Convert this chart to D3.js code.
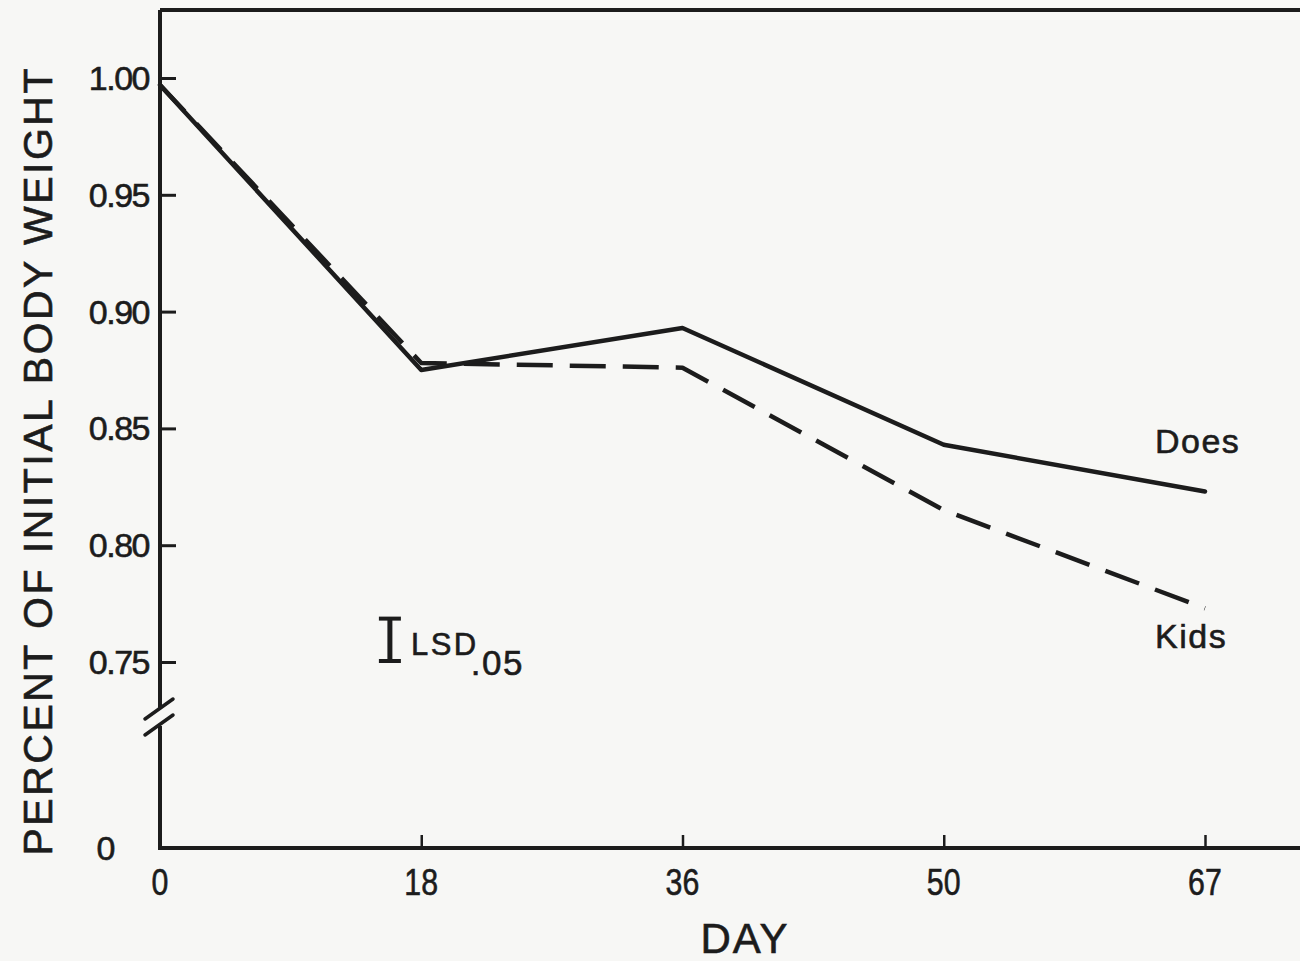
<!DOCTYPE html>
<html>
<head>
<meta charset="utf-8">
<script src="https://cdn.jsdelivr.net/npm/d3@7"></script>
<style>
  html, body { margin: 0; padding: 0; background: #f7f7f5; }
  svg { display: block; }
  text { font-family: "Liberation Sans", Arial, sans-serif; fill: #1c1c1c; stroke: #1c1c1c; stroke-width: 0.6; }
</style>
</head>
<body>
<svg id="chart" width="1300" height="961"></svg>
<script>
// ---- data ----
const days = ["0", "18", "36", "50", "67"];
const does = [0.997, 0.875, 0.893, 0.843, 0.823];
const kids = [0.997, 0.878, 0.876, 0.815, 0.773];
const yTicks = [0.75, 0.80, 0.85, 0.90, 0.95, 1.00];
const yTickLabels = ["0.75", "0.80", "0.85", "0.90", "0.95", "1.00"];
const lsdValue = 0.019;
const seriesNames = ["Does", "Kids"];

(function () {
// ---- layout ----
const svg = d3.select("#chart");
const pLeft = 160, pTop = 10, pRight = 1300, pBottom = 848;
const ink = "#1c1c1c";

const x = d3.scalePoint().domain(days).range([160, 1205]);
const y = d3.scaleLinear().domain([0.75, 1.00]).range([662, 78]);

// frame: top line
svg.append("line").attr("x1", pLeft).attr("x2", pRight).attr("y1", pTop).attr("y2", pTop)
  .attr("stroke", ink).attr("stroke-width", 4);

// y-axis with break
const breakY = y(0.75) + 55;
svg.append("line").attr("x1", pLeft).attr("x2", pLeft).attr("y1", pTop).attr("y2", breakY - 9)
  .attr("stroke", ink).attr("stroke-width", 4);
svg.append("line").attr("x1", pLeft).attr("x2", pLeft).attr("y1", breakY + 9).attr("y2", pBottom + 2)
  .attr("stroke", ink).attr("stroke-width", 4);
// break slashes
[-8, 8].forEach(o => {
  svg.append("line")
    .attr("x1", pLeft - 15).attr("y1", breakY + o + 10)
    .attr("x2", pLeft + 13).attr("y2", breakY + o - 10)
    .attr("stroke", ink).attr("stroke-width", 3.5).attr("stroke-linecap", "round");
});

// y axis ticks (inward) and labels
const yAxis = d3.axisRight(y).tickValues(yTicks).tickSize(16).tickFormat("");
const yg = svg.append("g").attr("transform", `translate(${pLeft},0)`).call(yAxis);
yg.select(".domain").remove();
yg.selectAll(".tick line").attr("stroke", ink).attr("stroke-width", 3);
svg.append("g").selectAll("text").data(yTicks).join("text")
  .attr("x", pLeft - 11).attr("y", d => y(d) + 12)
  .attr("text-anchor", "end").attr("font-size", 34).attr("letter-spacing", -1.5)
  .text((d, i) => yTickLabels[i]);
// the "0" of the broken axis
svg.append("text").attr("x", 106).attr("y", pBottom + 12)
  .attr("text-anchor", "middle").attr("font-size", 34).text("0");

// x axis
const xAxis = d3.axisTop(x).tickSize(13).tickFormat("");
const xg = svg.append("g").attr("transform", `translate(0,${pBottom})`).call(xAxis);
xg.select(".domain").remove();
xg.selectAll(".tick line").attr("stroke", ink).attr("stroke-width", 2.5);
svg.append("line").attr("x1", pLeft).attr("x2", pRight).attr("y1", pBottom).attr("y2", pBottom)
  .attr("stroke", ink).attr("stroke-width", 4);
svg.append("g").selectAll("text").data(days).join("text")
  .attr("x", d => x(d)).attr("y", pBottom + 47)
  .attr("text-anchor", "middle").attr("font-size", 37)
  .attr("transform", d => `translate(${x(d)},0) scale(0.82,1) translate(${-x(d)},0)`)
  .text(d => d);

// axis titles
svg.append("text").attr("x", 745).attr("y", 953)
  .attr("text-anchor", "middle").attr("font-size", 42).attr("letter-spacing", 2).text("DAY");
svg.append("text")
  .attr("transform", "translate(52,462) rotate(-90)")
  .attr("text-anchor", "middle").attr("font-size", 41)
  .attr("textLength", 787).attr("lengthAdjust", "spacing")
  .text("PERCENT OF INITIAL BODY WEIGHT");

// lines
const line = d3.line().x((d, i) => x(days[i])).y(d => y(d));
svg.append("path").datum(kids).attr("d", line)
  .attr("fill", "none").attr("stroke", ink).attr("stroke-width", 4.5)
  .attr("stroke-dasharray", "36,17").attr("stroke-linejoin", "round");
svg.append("path").datum(does).attr("d", line)
  .attr("fill", "none").attr("stroke", ink).attr("stroke-width", 4.5)
  .attr("stroke-linejoin", "round").attr("stroke-linecap", "round");

// series labels
svg.append("text").attr("x", 1155).attr("y", y(does[4]) - 38)
  .attr("font-size", 34).attr("letter-spacing", 1.5).text(seriesNames[0]);
svg.append("text").attr("x", 1155).attr("y", y(kids[4]) + 40)
  .attr("font-size", 34).attr("letter-spacing", 1.5).text(seriesNames[1]);

// LSD bar
const lx = x("0") + 0.88 * (x("18") - x("0"));
const lTop = y(0.75 + lsdValue), lBot = y(0.75);
const lsd = svg.append("g").attr("stroke", ink);
lsd.append("line").attr("x1", lx).attr("x2", lx).attr("y1", lTop).attr("y2", lBot).attr("stroke-width", 5);
lsd.append("line").attr("x1", lx - 11).attr("x2", lx + 11).attr("y1", lTop + 1).attr("y2", lTop + 1).attr("stroke-width", 4);
lsd.append("line").attr("x1", lx - 11).attr("x2", lx + 11).attr("y1", lBot - 1).attr("y2", lBot - 1).attr("stroke-width", 4);
const lt = svg.append("text").attr("x", lx + 21).attr("y", lTop + 37).attr("font-size", 31).attr("letter-spacing", 2.5);
lt.append("tspan").text("LSD");
lt.append("tspan").attr("dx", -8).attr("dy", 20).attr("font-size", 35).attr("letter-spacing", 1.5).text(".05");
})();
</script>
</body>
</html>
